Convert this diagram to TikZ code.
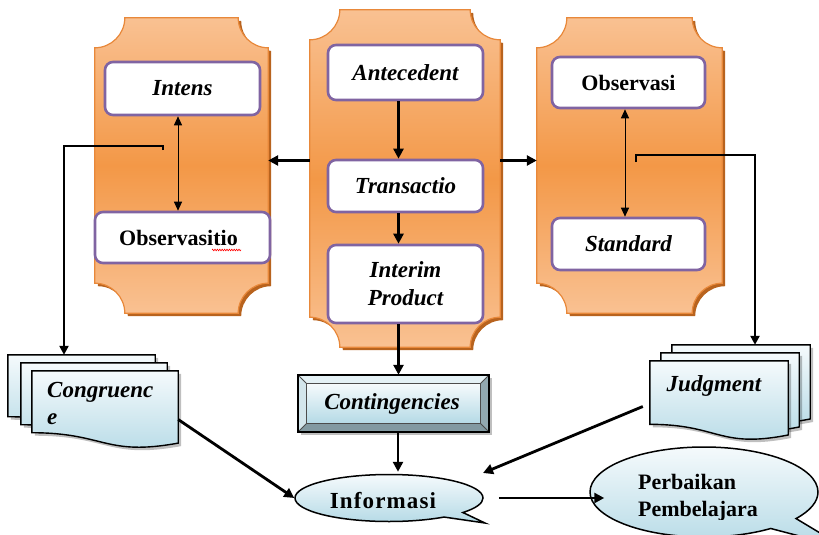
\documentclass[tikz,border=0pt]{standalone}
\usepackage{fontspec}
\setmainfont{Liberation Serif}
\usetikzlibrary{arrows.meta,calc,shapes.callouts,decorations.pathmorphing}

\definecolor{plaqueLight}{HTML}{F9C192}
\definecolor{plaqueMid}{HTML}{F39847}
\definecolor{plaqueEdge}{HTML}{E8883A}
\definecolor{plaqueShade}{HTML}{B8631E}
\definecolor{boxEdge}{HTML}{8064A2}
\definecolor{iceTop}{HTML}{F5FAFC}
\definecolor{iceBot}{HTML}{B5DAE6}
\definecolor{bevelTop}{HTML}{E4F1F5}
\definecolor{bevelLeft}{HTML}{D3E6EC}
\definecolor{bevelRight}{HTML}{92A9B1}
\definecolor{bevelBottom}{HTML}{8299A1}

\tikzset{
  lbl/.style={font=\fontsize{23}{28}\selectfont\bfseries\itshape},
  lblup/.style={font=\fontsize{22}{27}\selectfont\bfseries},
  frame/.style={rectangle, draw=none, inner sep=0pt},
  inbox/.style={rectangle, draw=boxEdge, line width=2.6pt, fill=white,
    rounded corners=8pt, inner sep=0pt, align=center},
  flow/.style={line width=2.8pt, -{Triangle[length=10pt,width=10pt]}},
  elbow/.style={line width=2.8pt, -{Triangle[length=9pt,width=9pt]}},
  link/.style={line width=1pt,
    {Triangle[length=9pt,width=8pt]}-{Triangle[length=9pt,width=8pt]}},
  bubble/.style={ellipse callout, draw=black, line width=1.5pt,
    top color=iceTop, bottom color=iceBot, inner sep=0pt},
}

% plaque outline with concave corners, from \p1 (north west) and \p2 (south east)
\newcommand\plaqueoutline{(\x1+30pt,\y1) -- (\x2-30pt,\y1)
  .. controls (\x2-30pt,\y1-16.5pt) and (\x2-16.5pt,\y1-30pt) .. (\x2,\y1-30pt)
  -- (\x2,\y2+30pt)
  .. controls (\x2-16.5pt,\y2+30pt) and (\x2-30pt,\y2+16.5pt) .. (\x2-30pt,\y2)
  -- (\x1+30pt,\y2)
  .. controls (\x1+30pt,\y2+16.5pt) and (\x1+16.5pt,\y2+30pt) .. (\x1,\y2+30pt)
  -- (\x1,\y1-30pt)
  .. controls (\x1+16.5pt,\y1-30pt) and (\x1+30pt,\y1-16.5pt) .. cycle}

\newcommand\drawplaque[1]{%
  \fill[plaqueShade] let \p1=($(#1.north west)+(3pt,-3pt)$),
    \p2=($(#1.south east)+(3pt,-3pt)$) in \plaqueoutline;
  \shade[top color=plaqueLight, bottom color=plaqueLight, middle color=plaqueMid,
    draw=plaqueEdge, line width=1.2pt]
    let \p1=(#1.north west), \p2=(#1.south east) in \plaqueoutline;
}

% document sheet with a wavy lower edge
\newcommand\docoutline{(\x1,\y1) -- (\x2,\y1) -- (\x2,{\y1-0.934*(\y1-\y2)})
  .. controls ({0.5*(\x1+\x2)},{\y1-1.108*(\y1-\y2)})
  and ({0.5*(\x1+\x2)},{\y1-0.8*(\y1-\y2)}) .. (\x1,{\y1-0.8*(\y1-\y2)}) -- cycle}

\newcommand\drawdoc[1]{%
  \fill[black, opacity=.25] let \p1=($(#1.north west)+(3pt,-3pt)$),
    \p2=($(#1.south east)+(3pt,-3pt)$) in \docoutline;
  \shade[top color=iceTop, bottom color=iceBot, draw=black, line width=1.4pt]
    let \p1=(#1.north west), \p2=(#1.south east) in \docoutline;
}

\begin{document}
\begin{tikzpicture}[x=1pt,y=-1pt]
\useasboundingbox (0,0) rectangle (819,535);
\clip (0,0) rectangle (819,535);

% ---- three plaques ----
\node[frame, minimum width=173pt, minimum height=295pt] (lp) at (181.5,165.5) {};
\node[frame, minimum width=190pt, minimum height=337pt] (cp) at (405,178.5) {};
\node[frame, minimum width=185pt, minimum height=295pt] (rp) at (629.5,165.5) {};
\drawplaque{lp}
\drawplaque{cp}
\drawplaque{rp}

% ---- boxes inside the plaques ----
\node[inbox, lbl, minimum width=155pt, minimum height=53pt] (intens) at (182.5,88.5) {Intens};
\node[inbox, lblup, minimum width=175pt, minimum height=51pt] (obsL) at (182.5,237.5) {\hspace*{-8pt}Observasitio};
\node[inbox, lbl, minimum width=155pt, minimum height=55pt] (ante) at (405.5,72.5) {Antecedent};
\node[inbox, lbl, minimum width=155pt, minimum height=52pt] (trans) at (405.5,186) {Transactio};
\node[inbox, lbl, minimum width=155pt, minimum height=78pt] (interim) at (405.5,284) {Interim\\Product};
\node[inbox, lblup, minimum width=153pt, minimum height=51pt] (obsR) at (628.5,82.5) {Observasi};
\node[inbox, lbl, minimum width=153pt, minimum height=52pt] (stand) at (628.5,244) {Standard};

% spelling mark under the last letters
\draw[red, line width=0.6pt, decorate,
  decoration={zigzag, amplitude=0.8pt, segment length=2.4pt}] (212,250) -- (241,250);

% ---- document stacks ----
\node[frame, minimum width=147pt, minimum height=77pt] (cgA) at (81.5,393.5) {};
\node[frame, minimum width=146pt, minimum height=77pt] (cgB) at (94,401.5) {};
\node[frame, minimum width=146pt, minimum height=77pt] (cgC) at (105,409.5) {};
\drawdoc{cgA}
\drawdoc{cgB}
\drawdoc{cgC}
\node[lbl, anchor=north west, align=left, inner sep=0pt,
  font=\fontsize{23}{27}\selectfont\bfseries\itshape] (cgT) at (47,382) {Congruenc\\e};

\node[frame, minimum width=138pt, minimum height=79pt] (jgA) at (741,384.5) {};
\node[frame, minimum width=138pt, minimum height=79pt] (jgB) at (730,392.5) {};
\node[frame, minimum width=138pt, minimum height=79pt] (jgC) at (719,400.5) {};
\drawdoc{jgA}
\drawdoc{jgB}
\drawdoc{jgC}
\node[lbl, inner sep=0pt] (jgT) at (714,386) {Judgment};

% ---- bevelled box ----
\node[frame, minimum width=191pt, minimum height=57pt] (cont) at (393.5,403.5) {};
\fill[black, opacity=.25] ($(cont.north west)+(3pt,-3pt)$) rectangle ($(cont.south east)+(3pt,-3pt)$);
\fill[bevelTop] let \p1=(cont.north west), \p2=(cont.south east) in
  (\x1,\y1) -- (\x2,\y1) -- (\x2-9pt,\y1-9pt) -- (\x1+9pt,\y1-9pt) -- cycle;
\fill[bevelLeft] let \p1=(cont.north west), \p2=(cont.south east) in
  (\x1,\y1) -- (\x1+9pt,\y1-9pt) -- (\x1+9pt,\y2+9pt) -- (\x1,\y2) -- cycle;
\fill[bevelRight] let \p1=(cont.north west), \p2=(cont.south east) in
  (\x2,\y1) -- (\x2,\y2) -- (\x2-9pt,\y2+9pt) -- (\x2-9pt,\y1-9pt) -- cycle;
\fill[bevelBottom] let \p1=(cont.north west), \p2=(cont.south east) in
  (\x1,\y2) -- (\x2,\y2) -- (\x2-9pt,\y2+9pt) -- (\x1+9pt,\y2+9pt) -- cycle;
\shade[top color=iceTop, bottom color=iceBot, draw=black!70, line width=0.8pt]
  ($(cont.north west)+(9pt,-9pt)$) rectangle ($(cont.south east)+(-9pt,9pt)$);
\draw[black!70, line width=0.8pt] (cont.north west) -- ++(9pt,-9pt)
  (cont.north east) -- ++(-9pt,-9pt) (cont.south west) -- ++(9pt,9pt)
  (cont.south east) -- ++(-9pt,9pt);
\draw[black, line width=1.8pt] (cont.north west) rectangle (cont.south east);
\node[lbl, inner sep=0pt] (contT) at (392,404) {Contingencies};

% ---- speech bubbles ----
\node[bubble, minimum width=188pt, minimum height=47pt,
  callout absolute pointer={(485,523)}, callout pointer arc=16] (info) at (389,498) {};
\node[inner sep=0pt, font=\fontsize{23}{27}\selectfont\bfseries\addfontfeature{LetterSpace=5}]
  (infoT) at (383,501) {Informasi};

\node[bubble, minimum width=228pt, minimum height=90pt,
  callout absolute pointer={(845,548)}, callout pointer arc=18] (perb) at (704,492) {};
\begin{scope}
  \clip (600,440) rectangle (800,519);
  \node[anchor=north west, align=left, inner sep=0pt,
    font=\fontsize{22}{27}\selectfont\bfseries] (perbT) at (638,474) {Perbaikan\\Pembelajara};
\end{scope}

% ---- connectors ----
\draw[flow] ([xshift=-7pt]ante.south) -- ([xshift=-7pt]trans.north);
\draw[flow] ([xshift=-7pt]trans.south) -- ([xshift=-7pt]interim.north);
\draw[flow] ([xshift=-7pt]interim.south) -- ([xshift=-7pt]interim.south |- cont.north);
\draw[flow] ([xshift=4.5pt]cont.south) -- ([xshift=4.5pt,yshift=2pt]cont.south |- info.north);
\draw[flow] ([yshift=18pt]cp.west) -- ([yshift=18pt]cp.west -| lp.east);
\draw[flow] ([yshift=18pt]cp.east) -- ([yshift=18pt]cp.east -| rp.west);

\draw[link] ([xshift=-4.5pt]intens.south) -- ([xshift=-4.5pt]obsL.north);
\draw[link] ([xshift=-3.5pt]obsR.south) -- ([xshift=-3.5pt]stand.north);

\coordinate (lsrc) at (163,150);
\coordinate (lturn) at (64,146);
\draw[elbow] (lsrc) |- (lturn) -- (lturn |- cgA.north);
\coordinate (rsrc) at (636,162);
\coordinate (rturn) at (755,155);
\draw[elbow] (rsrc) |- (rturn) -- (rturn |- jgA.north);

\draw[flow] ([yshift=-10pt]cgC.east) -- (info.west);
\draw[flow] ([xshift=-7pt,yshift=-6pt]jgC.west) -- ([xshift=94pt,yshift=25pt]info.center);
\draw[flow] ([xshift=15pt]info.east) -- ([xshift=15pt]info.east -| perb.west);
\end{tikzpicture}
\end{document}
